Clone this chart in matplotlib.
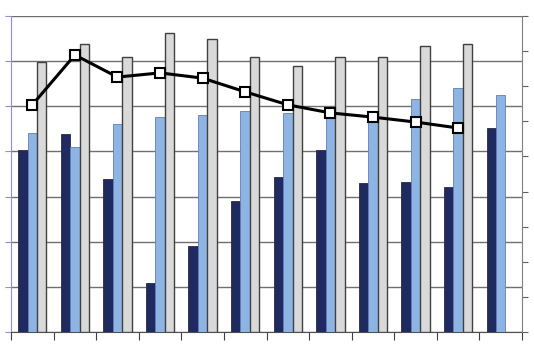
import matplotlib.pyplot as plt
import numpy as np

groups = list(range(12))
dark_vals = [4.03, 4.39, 3.39, 1.09, 1.90, 2.91, 3.43, 4.03, 3.30, 3.33, 3.22, 4.52]
light_vals = [4.41, 4.10, 4.61, 4.76, 4.81, 4.90, 4.85, 4.79, 4.70, 5.16, 5.41, 5.25]
gray_vals = [5.98, 6.38, 6.09, 6.62, 6.49, 6.09, 5.89, 6.09, 6.09, 6.34, 6.38, np.nan]
line_vals = [6.47, 7.89, 7.26, 7.38, 7.23, 6.84, 6.47, 6.24, 6.12, 5.98, 5.81]

fig = plt.figure(figsize=(5.34, 3.44), dpi=100)
ax = fig.add_axes([11 / 534, 12 / 344, 511 / 534, 316 / 344])

x = np.arange(len(groups))
w = 0.222
ax.bar(x - w, dark_vals, w, color='#1f2a60', edgecolor='#2a2a40', linewidth=0.6, zorder=3)
ax.bar(x, light_vals, w, color='#8db4e2', edgecolor='#5f7fb8', linewidth=0.6, zorder=3)
ax.bar(x + w, gray_vals, w, color='#d9d9d9', edgecolor='#404040', linewidth=1.0, zorder=3)

ax.set_xlim(-0.5, 11.5)
ax.set_ylim(0, 7)
ax.set_yticks(range(8))
ax.set_yticklabels([])
ax.set_xticks(np.arange(-0.5, 12, 1))
ax.set_xticklabels([])
ax.yaxis.grid(True, color='#707070', linewidth=1.0, zorder=0)
ax.tick_params(axis='x', direction='out', length=6, color='#404040')
ax.tick_params(axis='y', direction='out', length=4, color='#9090d0')
for s in ['top', 'right']:
    ax.spines[s].set_visible(False)
ax.spines['left'].set_color('#9090d0')
ax.spines['bottom'].set_color('#505050')

ax2 = ax.twinx()
ax2.set_ylim(0, 9)
ax2.set_yticks(range(10))
ax2.set_yticklabels([])
ax2.tick_params(axis='y', direction='out', length=4, color='#606060')
for s in ['top', 'left', 'bottom']:
    ax2.spines[s].set_visible(False)
ax2.spines['right'].set_color('#808080')
ax2.plot(x[:len(line_vals)], line_vals, color='black', linewidth=2.2,
         marker='s', markersize=7, markerfacecolor='white', markeredgecolor='black',
         markeredgewidth=1.5, zorder=5)

fig.savefig('out.png', dpi=100)
